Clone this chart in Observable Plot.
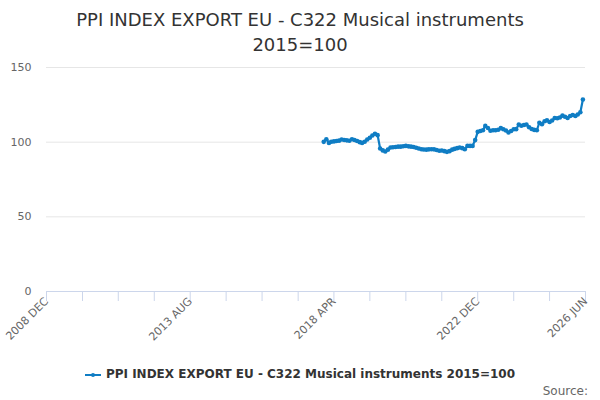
<!DOCTYPE html>
<html>
<head>
<meta charset="utf-8">
<script src="https://cdn.jsdelivr.net/npm/d3@7"></script>
<script src="https://cdn.jsdelivr.net/npm/@observablehq/plot@0.6"></script>
<style>
  body { margin:0; background:#fff; font-family:"DejaVu Sans", sans-serif; }
  #wrap { position:relative; width:600px; height:400px; overflow:hidden; }
  #title { position:absolute; left:0; top:7px; width:600px; text-align:center; font-size:18px; line-height:25px; color:#333; }
  #chart { position:absolute; left:0; top:57px; }
  #legend { position:absolute; left:0; top:365px; width:600px; text-align:center; font-size:12px; font-weight:bold; color:#333; line-height:18px; }
  #legend svg { vertical-align:middle; margin-right:5px; }
  #source { position:absolute; right:12px; top:384px; font-size:12px; color:#666; }
</style>
</head>
<body>
<div id="wrap">
  <div id="title">PPI INDEX EXPORT EU - C322 Musical instruments<br>2015=100</div>
  <div id="chart"></div>
  <div id="legend"></div>
  <div id="source">Source:</div>
</div>
<script>
const seriesName = "PPI INDEX EXPORT EU - C322 Musical instruments 2015=100";
const firstMonth = "2017-12-01";
const values = [
  100.2, 102, 99.5, 100.3, 100.5, 100.8, 101, 101.8, 101.5, 101.2,
  100.9, 102, 101.5, 100.8, 100, 99.5, 100.3, 101.8, 103, 104.5,
  105.6, 104.7, 95.8, 94.5, 93.8, 95, 96.4, 96.6, 96.8, 97,
  97, 97.3, 97.5, 97.2, 97, 96.8, 96.3, 95.8, 95.3, 95.1,
  95, 95.2, 95.3, 95.2, 94.8, 94.3, 94.4, 94, 93.5, 94,
  95, 95.5, 96, 96.4, 96, 95.3, 97.5, 97.5, 97.5, 101.4,
  106.9, 107.5, 108, 110.9, 109.5, 107.6, 108, 108, 108.3, 109.4,
  108.6, 107.8, 106.5, 107.5, 108.6, 108.7, 111.8, 111, 111.5, 111.8,
  110, 108.8, 108.2, 108, 113, 112, 114, 114.6, 113.5, 114.5,
  116.2, 116, 116.5, 117.8, 117, 116.2, 117.5, 118.2, 117.5, 118.5,
  120, 128.6
];
const xDomain = ["2008-12-01", "2026-06-01"];
const minorTickCount = 16;      // ticks every 14 months
const minorTickStepMonths = 14;
const labelTicks = ["2008-12-01", "2013-08-01", "2018-04-01", "2022-12-01", "2026-06-01"];
const labelTexts = ["2008 DEC", "2013 AUG", "2018 APR", "2022 DEC", "2026 JUN"];
const yTicks = [0, 50, 100, 150];

const color = "#0f7dc4";
const start = new Date(firstMonth);
const data = values.map((v, i) => ({date: d3.utcMonth.offset(start, i), value: v}));
const tickDates = d3.range(minorTickCount).map(i => d3.utcMonth.offset(new Date(xDomain[0]), i * minorTickStepMonths));
const labelDates = labelTicks.map(d => new Date(d));
const labelMap = new Map(labelDates.map((d, i) => [+d, labelTexts[i]]));

const chart = Plot.plot({
  width: 600,
  height: 305,
  marginTop: 10,
  marginBottom: 71,
  marginLeft: 46,
  marginRight: 15,
  style: {fontFamily: "'DejaVu Sans', sans-serif", fontSize: "11px", color: "#666", background: "transparent"},
  x: {type: "utc", domain: xDomain.map(d => new Date(d)), label: null},
  y: {domain: [0, 150], label: null},
  marks: [
    Plot.gridY(yTicks, {stroke: "#e6e6e6", strokeOpacity: 1, strokeWidth: 1}),
    Plot.axisY(yTicks, {tickSize: 0, tickPadding: 15, fill: "#666", fontSize: 11, label: null}),
    Plot.ruleY([0], {stroke: "#ccd6eb", strokeWidth: 1}),
    Plot.axisX(tickDates, {tickSize: 10, stroke: "#ccd6eb", strokeOpacity: 1, tickFormat: () => "", label: null}),
    Plot.axisX(labelDates, {tickSize: 0, tickRotate: -45, tickPadding: 8, fill: "#666", fontSize: 11, label: null,
      tickFormat: d => labelMap.get(+d)}),
    Plot.line(data, {x: "date", y: "value", stroke: color, strokeWidth: 2.2}),
    Plot.dot(data, {x: "date", y: "value", r: 2.3, fill: color, stroke: "none"})
  ]
});
document.getElementById("chart").appendChild(chart);

document.getElementById("legend").innerHTML =
  `<svg width="16" height="10"><line x1="0" y1="5" x2="16" y2="5" stroke="${color}" stroke-width="2"/><circle cx="8" cy="5" r="2" fill="${color}"/></svg>` +
  `<span>${seriesName}</span>`;
</script>
</body>
</html>
